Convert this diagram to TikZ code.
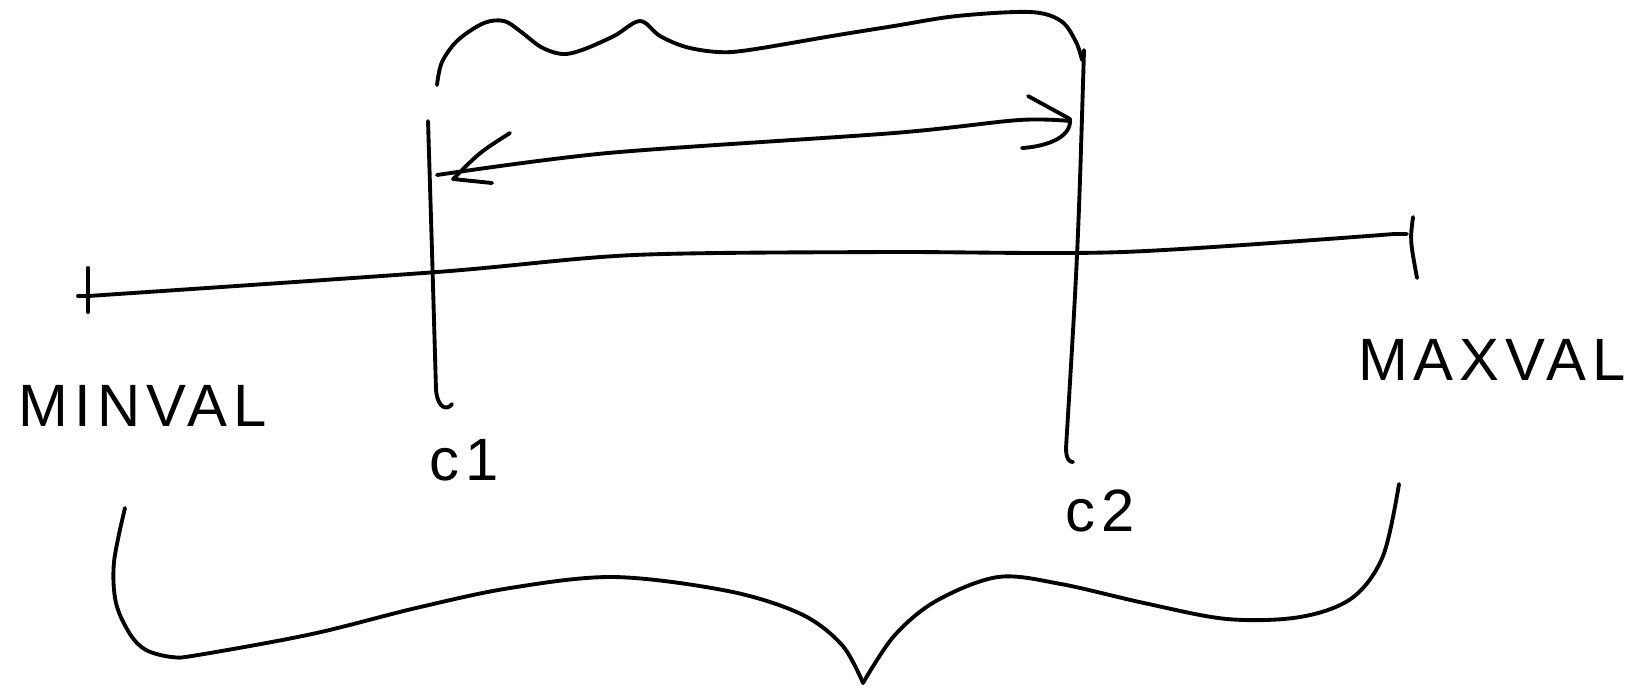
\documentclass[tikz,border=0pt]{standalone}
\usepackage{fontspec}
\setmainfont{Liberation Sans}
\begin{document}
\begin{tikzpicture}[x=0.01cm,y=-0.01cm,
  pen/.style={line width=1.1pt,line cap=round,line join=round},
  lbl/.style={inner sep=0pt,font=\fontsize{17}{20}\selectfont\addfontfeature{LetterSpace=10}}]
\useasboundingbox (0,0) rectangle (1631,687);
% axis from min to max
\coordinate (lo) at (88,296);
\coordinate (hi) at (1407,234);
\draw[pen] (lo) plot[smooth] coordinates {(88,296) (437,272) (634,255) (884,252) (1123,252) (1394,234)} -- (hi);
\draw[pen] (78,296) -- (lo);
\draw[pen] (88,268) -- (88,312);
\draw[pen] (1413,217) .. controls (1410,240) .. (1417,278);
% the two cuts
\coordinate (c1top) at (428,121);
\coordinate (c2top) at (1084,50);
\draw[pen] (c1top) .. controls (432,250) .. (436,390) .. controls (438,410) and (448,410) .. (452,404);
\draw[pen] (c2top) .. controls (1078,250) .. (1066,448) .. controls (1066,460) and (1070,462) .. (1073,462);
% range between c1 and c2
\coordinate (a1) at (437,175);
\coordinate (a2) at (1070,121);
\draw[pen] (a1) plot[smooth] coordinates {(437,175) (608,153) (894,133) (1019,120) (1070,121)};
\draw[pen] (510,133) .. controls (480,152) .. (453,179) -- (492,183);
\draw[pen] (1028,96) -- (1070,119) .. controls (1072,140) and (1040,147) .. (1022,148);
% brace above
\draw[pen] plot[smooth,tension=0.55] coordinates {(437,85) (442,62) (458,40) (484,23) (504,21) (520,31) (541,47) (562,54) (582,50) (614,36) (640,21) (660,36) (686,47) (718,52) (749,50) (832,36) (894,26) (957,16) (1030,12) (1061,21) (1076,42) (1082,60)};
% brace below
\draw[pen] plot[smooth,tension=0.55] coordinates {(125,508) (114,562) (116,603) (130,634) (146,650) (172,657) (198,655) (312,634) (416,608) (510,588) (614,577) (728,591) (801,614) (842,645) (863,683)};
\draw[pen] plot[smooth,tension=0.55] coordinates {(863,683) (894,636) (936,601) (998,577) (1061,584) (1144,603) (1227,619) (1300,617) (1352,598) (1383,556) (1399,484)};
% labels
\node[lbl] (minval) at (143,406) {MINVAL};
\node[lbl] (maxval) at (1492,360) {MAXVAL};
\node[lbl] (c1) at (464,460) {c1};
\node[lbl] (c2) at (1100,511) {c2};
\end{tikzpicture}
\end{document}
